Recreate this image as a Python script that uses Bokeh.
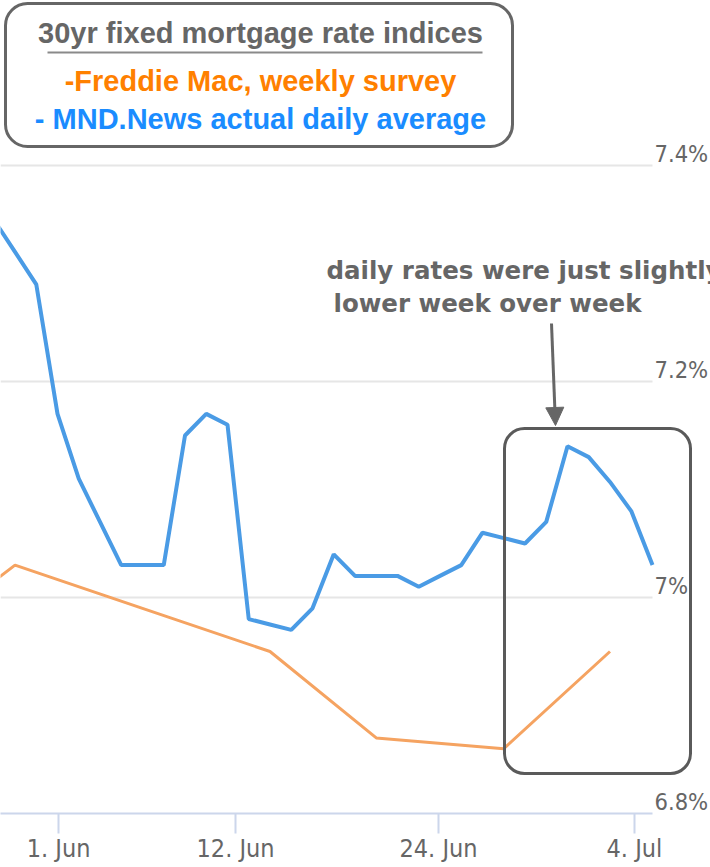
from bokeh.plotting import figure
from bokeh.models import (Range1d, FixedTicker, BoxAnnotation, Label, Arrow, NormalHead)
from bokeh.core.properties import value
from bokeh.embed import file_html
from bokeh.resources import INLINE

# ---------------- data (business-day index on x) ----------------
mnd_idx = [-3, -2, -1, 0, 1, 2, 3, 4, 5, 6, 7, 8, 9, 10, 11, 12, 13, 14, 15, 16,
           17, 18, 19, 20, 21, 22, 23, 24, 25, 26, 27, 28]
mnd_rate = [7.35, 7.32, 7.29, 7.17, 7.11, 7.07, 7.03, 7.03, 7.03, 7.15, 7.17, 7.16,
            6.98, 6.975, 6.97, 6.99, 7.04, 7.02, 7.02, 7.02, 7.01, 7.02, 7.03, 7.06,
            7.055, 7.05, 7.07, 7.14, 7.13, 7.107, 7.08, 7.03]

fm_idx = [-8, -2, 4, 10, 15, 21, 26]
fm_rate = [6.94, 7.03, 6.99, 6.95, 6.87, 6.86, 6.95]

x_tick_pos = [0.05, 8.38, 17.93, 27.15]
x_tick_labels = ["1. Jun", "12. Jun", "24. Jun", "4. Jul"]

y_ticks = [6.8, 7.0, 7.2, 7.4]
y_tick_labels = ["6.8%", "7%", "7.2%", "7.4%"]

legend_title = "30yr fixed mortgage rate indices"
legend_fm = "-Freddie Mac, weekly survey"
legend_mnd = "- MND.News actual daily average"
note_line1 = "daily rates were just slightly"
note_line2 = "lower week over week"

# ---------------- styling ----------------
BLUE = "#4a9be5"
ORANGE = "#f5a361"
GREY = "#666666"
TICK_FONT = "DejaVu Sans Condensed"

PX_PER_DAY = 21.25
PX_PER_PCT = 1080.0
x_end = mnd_idx[-1]                       # plot area ends at last daily point
x_start = x_end - 652 / PX_PER_DAY        # left edge of plot
x_far = x_end + 58 / PX_PER_DAY           # label gutter on the right
y_lo = y_ticks[0]
y_hi = y_ticks[-1] + 165 / PX_PER_PCT     # room for legend above

p = figure(width=710, height=867,
           x_range=Range1d(x_start, x_far), y_range=Range1d(y_lo, y_hi),
           min_border=0, min_border_left=0, min_border_right=0, min_border_top=0,
           min_border_bottom=54, output_backend="svg", toolbar_location=None,
           y_axis_location=None)
p.outline_line_color = None
p.background_fill_color = "white"
p.border_fill_color = "white"

p.xgrid.visible = False
p.ygrid.ticker = FixedTicker(ticks=y_ticks)
p.ygrid.grid_line_color = "#e6e6e6"
p.ygrid.grid_line_width = 2
p.ygrid.cross_bounds = (x_start, x_end)

# x axis
xa = p.xaxis[0]
xa.ticker = FixedTicker(ticks=x_tick_pos)
xa.major_label_overrides = dict(zip(x_tick_pos, x_tick_labels))
xa.bounds = (x_start, x_end)
xa.axis_line_color = "#ccd6eb"
xa.axis_line_width = 2
xa.major_tick_line_color = "#ccd6eb"
xa.major_tick_line_width = 2
xa.major_tick_in = 0
xa.major_tick_out = 20
xa.minor_tick_line_color = None
xa.major_label_standoff = 0
xa.major_label_text_font = TICK_FONT
xa.major_label_text_font_size = "25px"
xa.major_label_text_color = GREY

# y tick labels, sitting on the grid lines to the right of the plot
p.text(x=[x_end] * len(y_ticks), y=y_ticks, text=y_tick_labels, x_offset=2, y_offset=-12,
       text_font=value(TICK_FONT), text_font_size="23.5px", text_color=GREY,
       text_align="left", text_baseline="middle")

# series
p.line(fm_idx, fm_rate, line_color=ORANGE, line_width=3)
p.line(mnd_idx, mnd_rate, line_color=BLUE, line_width=4)

# ---------------- annotations (canvas px -> frame-relative screen units) ----------------
FB = 813  # frame bottom in canvas px


def sy(cy):
    return FB - cy


def box(l, r, t, b, **kw):
    return BoxAnnotation(left=l, right=r, top=sy(t), bottom=sy(b),
                         left_units="screen", right_units="screen",
                         top_units="screen", bottom_units="screen", **kw)


# legend box
p.add_layout(box(5, 512, 3, 146, fill_color=None, line_color=GREY, line_alpha=1,
                 line_width=3, border_radius=22))
p.add_layout(box(47, 482, 51, 53, fill_color="#8a8a8a", fill_alpha=1, line_color=None))
for txt, cy, col in [(legend_title, 32, GREY), (legend_fm, 80.5, "#ff8000"),
                     (legend_mnd, 118.5, "#1a8cff")]:
    p.add_layout(Label(x=260, y=sy(cy), x_units="screen", y_units="screen", text=txt,
                       text_font="Liberation Sans", text_font_style="bold",
                       text_font_size="29px", text_color=col, text_align="center",
                       text_baseline="middle"))

# note text
for txt, cx, cy in [(note_line1, 326, 270), (note_line2, 333, 303)]:
    p.add_layout(Label(x=cx, y=sy(cy), x_units="screen", y_units="screen", text=txt,
                       text_font="DejaVu Sans", text_font_style="bold",
                       text_font_size="24.5px", text_color=GREY, text_align="left",
                       text_baseline="middle"))

# arrow
p.add_layout(Arrow(end=NormalHead(size=18, fill_color=GREY, line_color=GREY),
                   x_start=551, y_start=sy(323), x_end=555, y_end=sy(425),
                   start_units="screen", end_units="screen",
                   line_color=GREY, line_width=3))

# highlight box
p.add_layout(box(504, 690, 428, 773, fill_color=None, line_color="#5a5a5a",
                 line_alpha=1, line_width=3, border_radius=20))

open("out.html", "w").write(file_html(p, INLINE))
